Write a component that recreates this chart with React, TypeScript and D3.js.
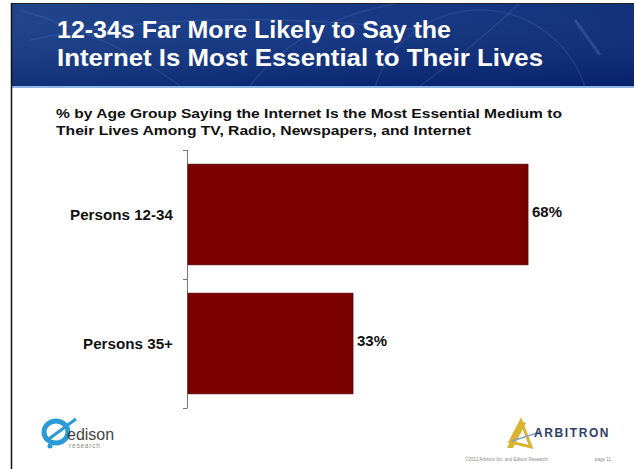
import React from "react";
import * as d3 from "d3";

const categories = ["Persons 12-34", "Persons 35+"];
const values = [68, 33];
const valueLabels = ["68%", "33%"];
const titleLines = ["12-34s Far More Likely to Say the", "Internet Is Most Essential to Their Lives"];
const subtitleLines = [
  "% by Age Group Saying the Internet Is the Most Essential Medium to",
  "Their Lives Among TV, Radio, Newspapers, and Internet",
];

export default function App() {
  const W = 634, H = 469;
  const x = d3.scaleLinear().domain([0, 100]).range([188, 688]);
  const y = d3.scaleBand().domain(categories).range([150, 408]).paddingInner(0.22).paddingOuter(0.11);
  const font = "Liberation Sans, Arial, sans-serif";
  const tickYs = [150, (150 + 408) / 2, 408];
  const titleLens = [394, 486];
  const subLens = [506, 415];
  const catLens = [103, 90];
  return (
    <svg width={W} height={H} style={{ position: "absolute", left: 0, top: 0, background: "#fff" }} fontFamily={font}>
      <defs>
        <linearGradient id="hdr" x1="0" y1="0" x2="1" y2="0">
          <stop offset="0" stopColor="#143a86" />
          <stop offset="0.5" stopColor="#0b2f80" />
          <stop offset="1" stopColor="#072775" />
        </linearGradient>
        <linearGradient id="hdrv" x1="0" y1="0" x2="0" y2="1">
          <stop offset="0" stopColor="#ffffff" stopOpacity="0.05" />
          <stop offset="1" stopColor="#000020" stopOpacity="0.15" />
        </linearGradient>
        <clipPath id="hclip">
          <rect x={11} y={3} width={W - 11} height={84} />
        </clipPath>
      </defs>
      <rect x={0} y={0} width={W} height={H} fill="#fff" />
      <rect x={11} y={3} width={W - 11} height={84} fill="url(#hdr)" />
      <rect x={11} y={3} width={W - 11} height={84} fill="url(#hdrv)" />
      <g stroke="#5a7fc0" strokeOpacity={0.22} strokeWidth={1.5} fill="none" clipPath="url(#hclip)">
        <path d="M20,10 Q120,40 180,86" />
        <path d="M30,40 Q200,5 420,30" />
        <path d="M250,86 Q300,20 400,3" />
        <path d="M420,86 Q470,50 520,3" />
        <path d="M575,20 L600,55" strokeWidth={3} strokeOpacity={0.35} />
        <circle cx={480} cy={120} r={110} />
      </g>
      <rect x={11} y={86} width={W - 11} height={2} fill="#8fb6e6" />
      <line x1={11.5} y1={3} x2={11.5} y2={H} stroke="#111" strokeWidth={1.5} />
      <line x1={11} y1={3.5} x2={W} y2={3.5} stroke="#222" strokeWidth={1} />
      {titleLines.map((t, i) => (
        <text key={i} x={57} y={38 + i * 28} fill="#fff" fontSize={24} fontWeight="bold"
          textLength={titleLens[i]} lengthAdjust="spacingAndGlyphs">{t}</text>
      ))}
      {subtitleLines.map((t, i) => (
        <text key={i} x={56} y={118 + i * 17} fill="#111" fontSize={13.5} fontWeight="bold"
          textLength={subLens[i]} lengthAdjust="spacingAndGlyphs">{t}</text>
      ))}
      <line x1={187.5} y1={150} x2={187.5} y2={408} stroke="#777" strokeWidth={1} />
      {tickYs.map((ty, i) => (
        <line key={i} x1={183} y1={ty + 0.5} x2={187.5} y2={ty + 0.5} stroke="#777" strokeWidth={1} />
      ))}
      {categories.map((c, i) => {
        const by = y(c)!;
        const bh = y.bandwidth();
        return (
          <g key={c}>
            <rect x={x(0)} y={by} width={x(values[i]) - x(0)} height={bh} fill="#7b0000" stroke="#5a0000" strokeWidth={0.8} />
            <text x={173} y={by + bh / 2} dy="0.35em" textAnchor="end" fontSize={14.5} fontWeight="bold" fill="#111"
              textLength={catLens[i]} lengthAdjust="spacingAndGlyphs">{c}</text>
            <text x={x(values[i]) + 4} y={by + bh / 2 - 2} dy="0.35em" fontSize={14} fontWeight="bold" fill="#111"
              textLength={30} lengthAdjust="spacingAndGlyphs">{valueLabels[i]}</text>
          </g>
        );
      })}
      <g>
        <ellipse cx={56} cy={432} rx={12} ry={11} fill="none" stroke="#2b9bd6" strokeWidth={5} />
        <path d="M46,441 L76,419" stroke="#2b9bd6" strokeWidth={3} />
        <circle cx={50} cy={446} r={2.5} fill="#2b9bd6" />
        <text x={67} y={440} fontSize={16} fill="#444">edison</text>
        <text x={69} y={448} fontSize={6.5} fill="#888" letterSpacing={0.8}>research</text>
      </g>
      <g>
        <path d="M507,448 L521,421 L526,423 L513,448 Z" fill="#d9b430" />
        <path d="M521,421 L531,447 L510,442 Z" fill="none" stroke="#d9b430" strokeWidth={3} />
        <path d="M512,441 L540,432" stroke="#8aa0c0" strokeWidth={1.5} />
        <text x={534} y={437} fontSize={12} fill="#2f3e66" letterSpacing={1.6} fontWeight="bold">ARBITRON</text>
        <text x={465} y={461} fontSize={4.5} fill="#888">©2012 Arbitron Inc. and Edison Research</text>
        <text x={595} y={461} fontSize={4.5} fill="#888">page 11</text>
      </g>
    </svg>
  );
}
